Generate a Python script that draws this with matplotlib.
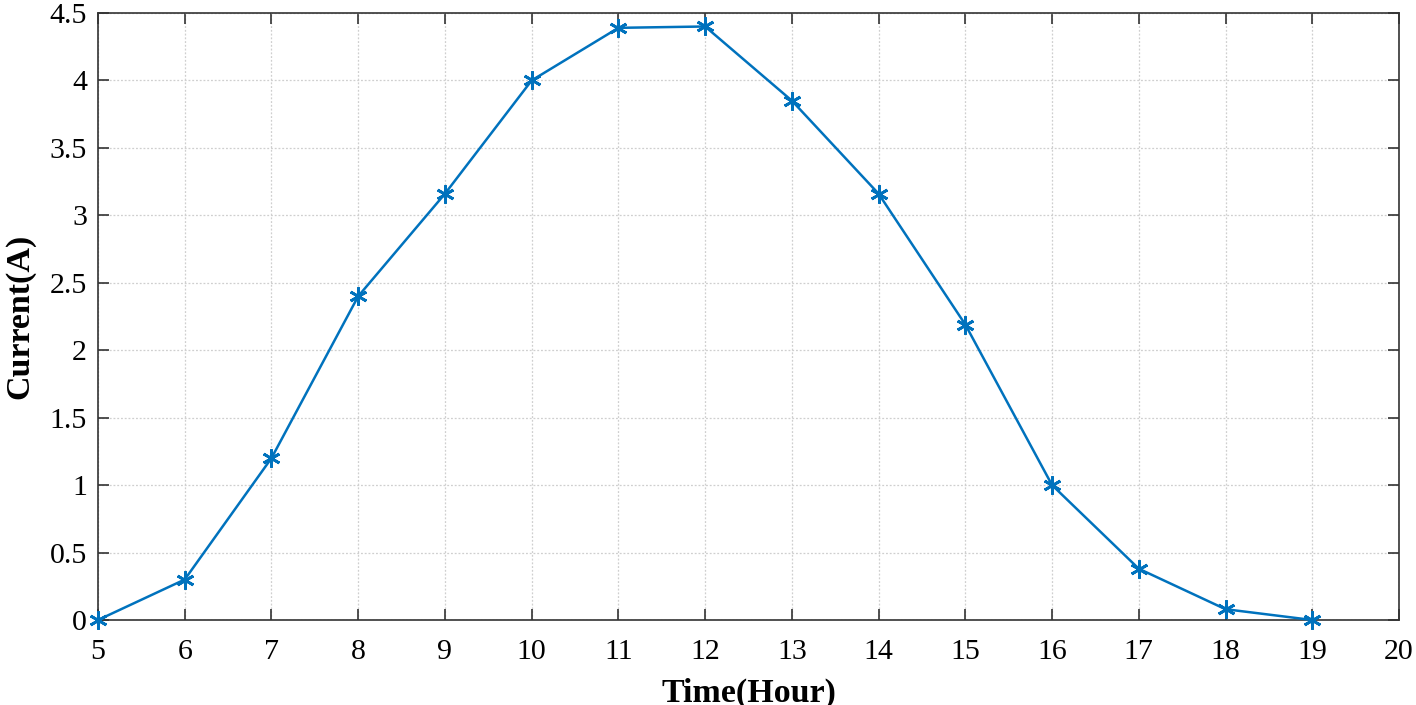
import matplotlib
matplotlib.use("Agg")
import matplotlib.pyplot as plt

hours = [5, 6, 7, 8, 9, 10, 11, 12, 13, 14, 15, 16, 17, 18, 19]
current = [0.0, 0.30, 1.20, 2.40, 3.16, 4.00, 4.39, 4.40, 3.85, 3.16, 2.19, 1.00, 0.38, 0.08, 0.0]
xticks = list(range(5, 21))
yticks = [0, 0.5, 1, 1.5, 2, 2.5, 3, 3.5, 4, 4.5]
ytick_labels = ["0", "0.5", "1", "1.5", "2", "2.5", "3", "3.5", "4", "4.5"]

plt.rcParams['font.family'] = ['Liberation Serif', 'DejaVu Serif']

fig = plt.figure(figsize=(14.16, 7.05), dpi=100)
ax = fig.add_axes([98/1416, 1 - 620/705, (1399-98)/1416, (620-13)/705])

ax.plot(hours, current, color='#0072BD', linewidth=1.8, marker=(6, 2, 0),
        markersize=13, markeredgewidth=2.0, markeredgecolor='#0072BD',
        clip_on=False, zorder=5)

ax.set_xlim(5, 20)
ax.set_ylim(0, 4.5)
ax.set_xticks(xticks)
ax.set_yticks(yticks)
ax.set_yticklabels(ytick_labels)
ax.grid(True, linestyle=(0, (1.5, 1.5)), color='#cfcfcf', linewidth=0.9)
ax.tick_params(direction='in', top=True, right=True, labelsize=21.5, length=8,
               width=1.2, color='#333333')
ax.tick_params(axis='x', pad=14)
ax.tick_params(axis='y', pad=8)
for s in ax.spines.values():
    s.set_color('#333333')
    s.set_linewidth(1.2)

ax.set_xlabel('Time(Hour)', fontsize=24.5, fontweight='bold', labelpad=9)
ax.set_ylabel('Current(A)', fontsize=24.5, fontweight='bold', labelpad=10)

fig.savefig('out.png', dpi=100)
